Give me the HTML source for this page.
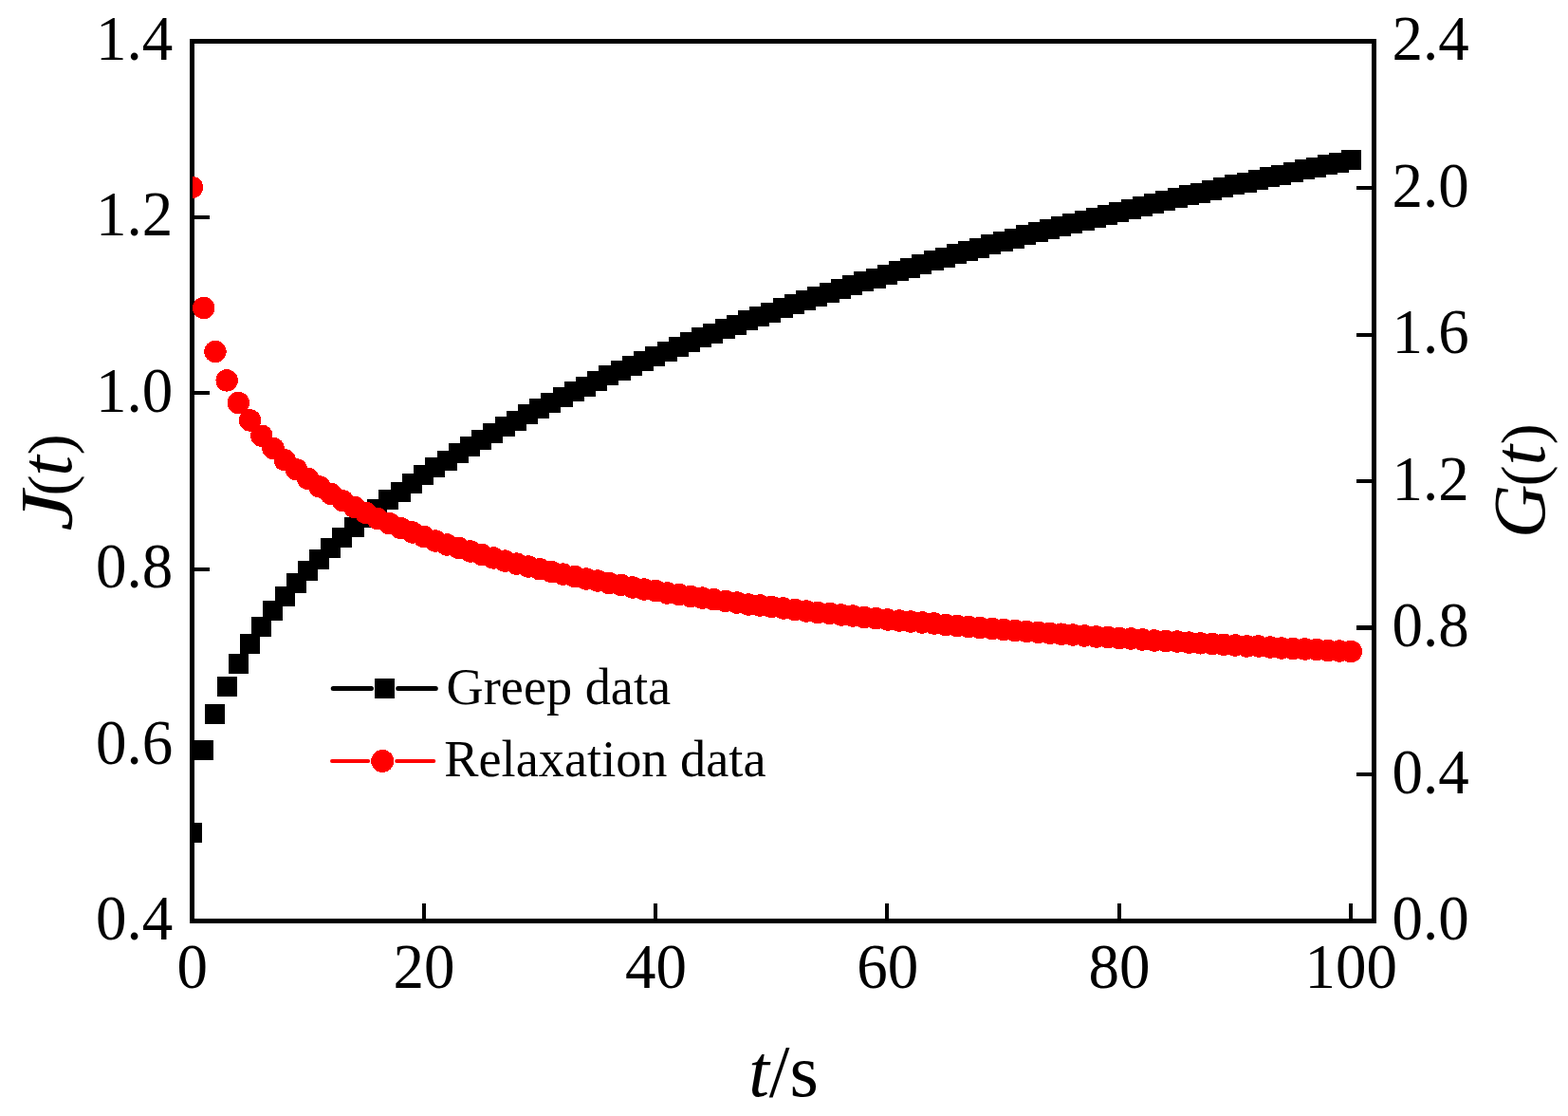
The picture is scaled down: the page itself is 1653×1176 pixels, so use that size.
<!DOCTYPE html>
<html lang="en"><head><meta charset="utf-8"><title>Creep and relaxation data</title>
<style>
html,body{margin:0;padding:0;background:#fff;}
body{width:1653px;height:1176px;overflow:hidden;}
svg{display:block;}
text{font-family:"Liberation Serif","DejaVu Serif",serif;fill:#000;}
.tk{font-size:65px;}
.ti{font-size:78px;}
.pn{font-size:66.5px;}
.lg{font-size:54.3px;}
.it{font-style:italic;}
</style></head><body>
<svg width="1653" height="1176" viewBox="0 0 1653 1176">
<rect x="0" y="0" width="1653" height="1176" fill="#fff"/>
<defs><clipPath id="plot"><rect x="203" y="44" width="1245" height="926"/></clipPath></defs>
<g shape-rendering="crispEdges" fill="#000">
<path d="M200 41H1451V973H200Z M205 46V968H1446V46Z" fill-rule="evenodd"/>
<rect x="445" y="952" width="4" height="16"/>
<rect x="689" y="952" width="4" height="16"/>
<rect x="933" y="952" width="4" height="16"/>
<rect x="1178" y="952" width="4" height="16"/>
<rect x="1422" y="952" width="4" height="16"/>
<rect x="205" y="783" width="16" height="4"/>
<rect x="205" y="598" width="16" height="4"/>
<rect x="205" y="412" width="16" height="4"/>
<rect x="205" y="227" width="16" height="4"/>
<rect x="1430" y="814" width="16" height="4"/>
<rect x="1430" y="659" width="16" height="5"/>
<rect x="1430" y="505" width="16" height="4"/>
<rect x="1430" y="351" width="16" height="4"/>
<rect x="1430" y="196" width="16" height="4"/>
</g>
<g clip-path="url(#plot)" shape-rendering="crispEdges">
<g fill="#000">
<rect x="192" y="867" width="21" height="21"/>
<rect x="204" y="780" width="21" height="21"/>
<rect x="216" y="742" width="21" height="21"/>
<rect x="229" y="713" width="21" height="21"/>
<rect x="241" y="689" width="21" height="21"/>
<rect x="253" y="668" width="21" height="21"/>
<rect x="265" y="650" width="21" height="21"/>
<rect x="277" y="633" width="21" height="21"/>
<rect x="290" y="618" width="21" height="21"/>
<rect x="302" y="604" width="21" height="21"/>
<rect x="314" y="591" width="21" height="21"/>
<rect x="326" y="579" width="21" height="21"/>
<rect x="338" y="567" width="21" height="21"/>
<rect x="350" y="556" width="21" height="21"/>
<rect x="363" y="545" width="21" height="21"/>
<rect x="375" y="535" width="21" height="21"/>
<rect x="387" y="526" width="21" height="21"/>
<rect x="399" y="516" width="21" height="21"/>
<rect x="412" y="508" width="21" height="21"/>
<rect x="424" y="499" width="21" height="21"/>
<rect x="436" y="490" width="21" height="21"/>
<rect x="448" y="482" width="21" height="21"/>
<rect x="461" y="475" width="21" height="21"/>
<rect x="473" y="467" width="21" height="21"/>
<rect x="485" y="460" width="21" height="21"/>
<rect x="497" y="453" width="21" height="21"/>
<rect x="509" y="446" width="21" height="21"/>
<rect x="522" y="439" width="21" height="21"/>
<rect x="534" y="433" width="21" height="21"/>
<rect x="546" y="426" width="21" height="21"/>
<rect x="558" y="420" width="21" height="21"/>
<rect x="570" y="414" width="21" height="21"/>
<rect x="583" y="408" width="21" height="21"/>
<rect x="595" y="402" width="21" height="21"/>
<rect x="607" y="397" width="21" height="21"/>
<rect x="619" y="391" width="21" height="21"/>
<rect x="631" y="385" width="21" height="21"/>
<rect x="644" y="380" width="21" height="21"/>
<rect x="656" y="375" width="21" height="21"/>
<rect x="668" y="370" width="21" height="21"/>
<rect x="680" y="365" width="21" height="21"/>
<rect x="693" y="360" width="21" height="21"/>
<rect x="705" y="355" width="21" height="21"/>
<rect x="717" y="350" width="21" height="21"/>
<rect x="729" y="345" width="21" height="21"/>
<rect x="741" y="341" width="21" height="21"/>
<rect x="754" y="336" width="21" height="21"/>
<rect x="766" y="332" width="21" height="21"/>
<rect x="778" y="327" width="21" height="21"/>
<rect x="790" y="323" width="21" height="21"/>
<rect x="802" y="319" width="21" height="21"/>
<rect x="815" y="314" width="21" height="21"/>
<rect x="827" y="310" width="21" height="21"/>
<rect x="839" y="306" width="21" height="21"/>
<rect x="851" y="302" width="21" height="21"/>
<rect x="864" y="298" width="21" height="21"/>
<rect x="876" y="294" width="21" height="21"/>
<rect x="888" y="290" width="21" height="21"/>
<rect x="900" y="286" width="21" height="21"/>
<rect x="913" y="283" width="21" height="21"/>
<rect x="925" y="279" width="21" height="21"/>
<rect x="937" y="275" width="21" height="21"/>
<rect x="949" y="272" width="21" height="21"/>
<rect x="961" y="268" width="21" height="21"/>
<rect x="974" y="264" width="21" height="21"/>
<rect x="986" y="261" width="21" height="21"/>
<rect x="998" y="257" width="21" height="21"/>
<rect x="1010" y="254" width="21" height="21"/>
<rect x="1022" y="251" width="21" height="21"/>
<rect x="1034" y="247" width="21" height="21"/>
<rect x="1047" y="244" width="21" height="21"/>
<rect x="1059" y="241" width="21" height="21"/>
<rect x="1071" y="237" width="21" height="21"/>
<rect x="1084" y="234" width="21" height="21"/>
<rect x="1096" y="231" width="21" height="21"/>
<rect x="1108" y="228" width="21" height="21"/>
<rect x="1120" y="225" width="21" height="21"/>
<rect x="1133" y="222" width="21" height="21"/>
<rect x="1145" y="219" width="21" height="21"/>
<rect x="1157" y="216" width="21" height="21"/>
<rect x="1169" y="213" width="21" height="21"/>
<rect x="1182" y="210" width="21" height="21"/>
<rect x="1194" y="207" width="21" height="21"/>
<rect x="1206" y="204" width="21" height="21"/>
<rect x="1218" y="201" width="21" height="21"/>
<rect x="1231" y="198" width="21" height="21"/>
<rect x="1243" y="195" width="21" height="21"/>
<rect x="1255" y="193" width="21" height="21"/>
<rect x="1267" y="190" width="21" height="21"/>
<rect x="1279" y="187" width="21" height="21"/>
<rect x="1291" y="184" width="21" height="21"/>
<rect x="1304" y="182" width="21" height="21"/>
<rect x="1316" y="179" width="21" height="21"/>
<rect x="1328" y="176" width="21" height="21"/>
<rect x="1340" y="174" width="21" height="21"/>
<rect x="1353" y="171" width="21" height="21"/>
<rect x="1365" y="168" width="21" height="21"/>
<rect x="1377" y="166" width="21" height="21"/>
<rect x="1389" y="163" width="21" height="21"/>
<rect x="1401" y="161" width="21" height="21"/>
<rect x="1414" y="158" width="21" height="21"/>
</g><g fill="#f00">
<circle cx="202.5" cy="197.5" r="11.7"/>
<circle cx="214.72" cy="324.5" r="11.7"/>
<circle cx="226.94" cy="370.5" r="11.7"/>
<circle cx="239.16" cy="400.9" r="11.7"/>
<circle cx="251.38" cy="424.5" r="11.7"/>
<circle cx="263.6" cy="443" r="11.7"/>
<circle cx="275.81" cy="459.2" r="11.7"/>
<circle cx="288.03" cy="472.5" r="11.7"/>
<circle cx="300.25" cy="484.8" r="11.7"/>
<circle cx="312.47" cy="494.8" r="11.7"/>
<circle cx="324.69" cy="504.41" r="11.7"/>
<circle cx="336.91" cy="512.92" r="11.7"/>
<circle cx="349.13" cy="520.68" r="11.7"/>
<circle cx="361.35" cy="527.8" r="11.7"/>
<circle cx="373.57" cy="534.38" r="11.7"/>
<circle cx="385.78" cy="540.49" r="11.7"/>
<circle cx="398" cy="546.5" r="11.7"/>
<circle cx="410.22" cy="551.5" r="11.7"/>
<circle cx="422.44" cy="556.5" r="11.7"/>
<circle cx="434.66" cy="561" r="11.7"/>
<circle cx="446.88" cy="565.5" r="11.7"/>
<circle cx="459.1" cy="570" r="11.7"/>
<circle cx="471.32" cy="574" r="11.7"/>
<circle cx="483.54" cy="577.5" r="11.7"/>
<circle cx="495.76" cy="581" r="11.7"/>
<circle cx="507.97" cy="584.5" r="11.7"/>
<circle cx="520.19" cy="587.94" r="11.7"/>
<circle cx="532.41" cy="591.09" r="11.7"/>
<circle cx="544.63" cy="594.1" r="11.7"/>
<circle cx="556.85" cy="597" r="11.7"/>
<circle cx="569.07" cy="599.78" r="11.7"/>
<circle cx="581.29" cy="602.45" r="11.7"/>
<circle cx="593.51" cy="605.03" r="11.7"/>
<circle cx="605.73" cy="607.51" r="11.7"/>
<circle cx="617.95" cy="610" r="11.7"/>
<circle cx="630.16" cy="612" r="11.7"/>
<circle cx="642.38" cy="614.5" r="11.7"/>
<circle cx="654.6" cy="616.5" r="11.7"/>
<circle cx="666.82" cy="619" r="11.7"/>
<circle cx="679.04" cy="621" r="11.7"/>
<circle cx="691.26" cy="622.5" r="11.7"/>
<circle cx="703.48" cy="625" r="11.7"/>
<circle cx="715.7" cy="626.5" r="11.7"/>
<circle cx="727.92" cy="628.5" r="11.7"/>
<circle cx="740.14" cy="630.06" r="11.7"/>
<circle cx="752.36" cy="631.76" r="11.7"/>
<circle cx="764.57" cy="633.42" r="11.7"/>
<circle cx="776.79" cy="635.04" r="11.7"/>
<circle cx="789.01" cy="637" r="11.7"/>
<circle cx="801.23" cy="638" r="11.7"/>
<circle cx="813.45" cy="639.5" r="11.7"/>
<circle cx="825.67" cy="641" r="11.7"/>
<circle cx="837.89" cy="642.5" r="11.7"/>
<circle cx="850.11" cy="644" r="11.7"/>
<circle cx="862.33" cy="645.5" r="11.7"/>
<circle cx="874.54" cy="646.5" r="11.7"/>
<circle cx="886.76" cy="648" r="11.7"/>
<circle cx="898.98" cy="649" r="11.7"/>
<circle cx="911.2" cy="650.43" r="11.7"/>
<circle cx="923.42" cy="651.65" r="11.7"/>
<circle cx="935.64" cy="653" r="11.7"/>
<circle cx="947.86" cy="654" r="11.7"/>
<circle cx="960.08" cy="655" r="11.7"/>
<circle cx="972.3" cy="656" r="11.7"/>
<circle cx="984.52" cy="657" r="11.7"/>
<circle cx="996.74" cy="658.5" r="11.7"/>
<circle cx="1008.95" cy="659.5" r="11.7"/>
<circle cx="1021.17" cy="660.5" r="11.7"/>
<circle cx="1033.39" cy="661.5" r="11.7"/>
<circle cx="1045.61" cy="662.5" r="11.7"/>
<circle cx="1057.83" cy="663.52" r="11.7"/>
<circle cx="1070.05" cy="664.48" r="11.7"/>
<circle cx="1082.27" cy="665.43" r="11.7"/>
<circle cx="1094.49" cy="666.35" r="11.7"/>
<circle cx="1106.71" cy="667.26" r="11.7"/>
<circle cx="1118.92" cy="668.16" r="11.7"/>
<circle cx="1131.14" cy="669" r="11.7"/>
<circle cx="1143.36" cy="670" r="11.7"/>
<circle cx="1155.58" cy="671" r="11.7"/>
<circle cx="1167.8" cy="671.5" r="11.7"/>
<circle cx="1180.02" cy="672.5" r="11.7"/>
<circle cx="1192.24" cy="673" r="11.7"/>
<circle cx="1204.46" cy="674" r="11.7"/>
<circle cx="1216.68" cy="675" r="11.7"/>
<circle cx="1228.9" cy="675.5" r="11.7"/>
<circle cx="1241.12" cy="676" r="11.7"/>
<circle cx="1253.33" cy="677.09" r="11.7"/>
<circle cx="1265.55" cy="677.83" r="11.7"/>
<circle cx="1277.77" cy="678.56" r="11.7"/>
<circle cx="1289.99" cy="679.27" r="11.7"/>
<circle cx="1302.21" cy="679.98" r="11.7"/>
<circle cx="1314.43" cy="681" r="11.7"/>
<circle cx="1326.65" cy="681" r="11.7"/>
<circle cx="1338.87" cy="682" r="11.7"/>
<circle cx="1351.09" cy="683" r="11.7"/>
<circle cx="1363.3" cy="683.5" r="11.7"/>
<circle cx="1375.52" cy="684" r="11.7"/>
<circle cx="1387.74" cy="684.5" r="11.7"/>
<circle cx="1399.96" cy="685.5" r="11.7"/>
<circle cx="1412.18" cy="686" r="11.7"/>
<circle cx="1424.4" cy="686.5" r="11.7"/>
</g></g>
<g fill="none">
<path d="M351.2 725.5H391.5M419.7 725.5H459.3" stroke="#000" stroke-width="5" stroke-linecap="round"/>
<path d="M350 802H388.2M418.2 802H457.3" stroke="#f00" stroke-width="4" stroke-linecap="round"/>
</g>
<g shape-rendering="crispEdges">
<rect x="395" y="715" width="21" height="21" fill="#000"/>
<circle cx="403.2" cy="802" r="12" fill="#f00"/>
</g>
<text class="lg" x="470.5" y="742">Greep data</text>
<text class="lg" x="468.3" y="818">Relaxation data</text>
<text class="tk" transform="translate(182.3,990) scale(1,1.035)" text-anchor="end">0.4</text>
<text class="tk" transform="translate(182.3,804.6) scale(1,1.035)" text-anchor="end">0.6</text>
<text class="tk" transform="translate(182.3,619.2) scale(1,1.035)" text-anchor="end">0.8</text>
<text class="tk" transform="translate(182.3,433.8) scale(1,1.035)" text-anchor="end">1.0</text>
<text class="tk" transform="translate(182.3,248.4) scale(1,1.035)" text-anchor="end">1.2</text>
<text class="tk" transform="translate(182.3,63) scale(1,1.035)" text-anchor="end">1.4</text>
<text class="tk" transform="translate(1467.6,990) scale(1,1.035)">0.0</text>
<text class="tk" transform="translate(1467.6,835.5) scale(1,1.035)">0.4</text>
<text class="tk" transform="translate(1467.6,681) scale(1,1.035)">0.8</text>
<text class="tk" transform="translate(1467.6,526.5) scale(1,1.035)">1.2</text>
<text class="tk" transform="translate(1467.6,372) scale(1,1.035)">1.6</text>
<text class="tk" transform="translate(1467.6,217.5) scale(1,1.035)">2.0</text>
<text class="tk" transform="translate(1467.6,63) scale(1,1.035)">2.4</text>
<text class="tk" transform="translate(202.8,1041.3) scale(1,1.035)" text-anchor="middle">0</text>
<text class="tk" transform="translate(447.1,1041.3) scale(1,1.035)" text-anchor="middle">20</text>
<text class="tk" transform="translate(691.4,1041.3) scale(1,1.035)" text-anchor="middle">40</text>
<text class="tk" transform="translate(935.7,1041.3) scale(1,1.035)" text-anchor="middle">60</text>
<text class="tk" transform="translate(1180,1041.3) scale(1,1.035)" text-anchor="middle">80</text>
<text class="tk" transform="translate(1424.3,1041.3) scale(1,1.035)" text-anchor="middle">100</text>
<text class="ti" x="826" y="1155.2" text-anchor="middle"><tspan class="it">t</tspan>/s</text>
<text class="ti" transform="translate(75.4,559.7) rotate(-90)"><tspan class="it" x="0" textLength="42.3" lengthAdjust="spacingAndGlyphs">J</tspan><tspan class="pn" x="37.2">(</tspan><tspan class="it" x="58">t</tspan><tspan class="pn" x="80.3">)</tspan></text>
<text class="ti" transform="translate(1628.2,567) rotate(-90)"><tspan class="it" x="0">G</tspan><tspan class="pn" x="54.5">(</tspan><tspan class="it" x="76.4">t</tspan><tspan class="pn" x="98.4">)</tspan></text>
</svg></body></html>
